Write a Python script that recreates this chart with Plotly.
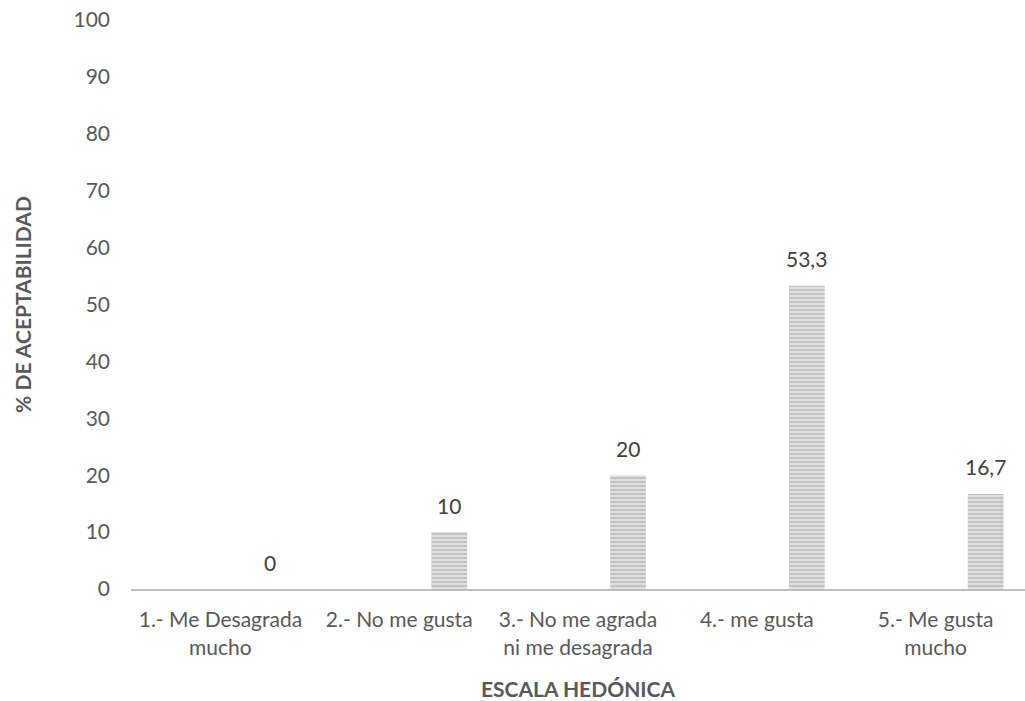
import plotly.graph_objects as go

categories = ["1.- Me Desagrada<br>mucho", "2.- No me gusta", "3.- No me agrada<br>ni me desagrada",
              "4.- me gusta", "5.- Me gusta<br>mucho"]
values = [0, 10, 20, 53.3, 16.7]
y_ticks = [0, 10, 20, 30, 40, 50, 60, 70, 80, 90, 100]

FONT = "Lato"
TICK_COLOR = "#595959"
FS = 21

fig = go.Figure()
fig.add_trace(go.Bar(
    x=categories, y=values,
    offset=0.18, width=0.2,
    marker=dict(color="#d4d4d4", line=dict(width=0),
                pattern=dict(shape="-", fgcolor="#a3a3a3", bgcolor="#dedede", size=4, solidity=0.45)),
    showlegend=False, hoverinfo="skip",
))

annotations = []
for c, v in zip(categories, values):
    annotations.append(dict(
        x=c, y=v, xref="x", yref="y", text=f"{v:g}".replace(".", ","),
        showarrow=False, xshift=50, yshift=27,
        font=dict(family=FONT, size=FS, color="#404040"),
    ))

fig.update_layout(
    width=1025, height=701,
    margin=dict(l=131, r=0, t=20, b=110),
    paper_bgcolor="white", plot_bgcolor="white",
    font=dict(family=FONT, size=FS, color=TICK_COLOR),
    annotations=annotations,
    xaxis=dict(
        showline=True, linecolor="#bfbfbf", linewidth=2,
        showgrid=False, ticks="", tickfont=dict(size=FS, color=TICK_COLOR),
        ticklabelstandoff=11,
        title=dict(text="<b>ESCALA HEDÓNICA</b>", font=dict(size=FS, color=TICK_COLOR), standoff=28),
    ),
    yaxis=dict(
        range=[0, 100], tickvals=y_ticks, showgrid=False, zeroline=False, showline=False,
        ticks="", tickfont=dict(size=FS, color=TICK_COLOR), ticklabelstandoff=20,
        title=dict(text="<b>% DE ACEPTABILIDAD</b>", font=dict(size=FS, color=TICK_COLOR), standoff=36),
    ),
)

fig.write_html("out.html")
